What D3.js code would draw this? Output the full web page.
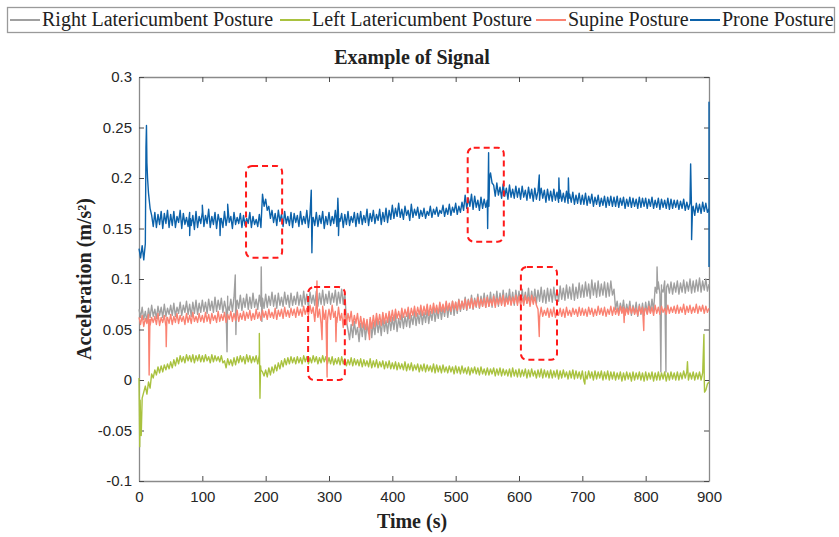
<!DOCTYPE html>
<html>
<head>
<meta charset="utf-8">
<script src="https://cdn.jsdelivr.net/npm/d3@7"></script>
<style>
  body { margin: 0; background: #fff; }
  svg { display: block; }
</style>
</head>
<body>
<svg id="chart" width="839" height="537"></svg>
<script>
// sizes
const WIDTH = 839;
const HEIGHT = 537;
const M = {left: 139, right: 130, top: 77, bottom: 56};

// data: values in 1/1000 m/s^2, one sample every 2.5 s from 0 to 900 s (one row = 50 s)
const T_STEP = 2.5;
const xTicks = [0, 100, 200, 300, 400, 500, 600, 700, 800, 900];
const yTicks = [-0.1, -0.05, 0, 0.05, 0.1, 0.15, 0.2, 0.25, 0.3];
const seriesNames = ["Right Latericumbent Posture", "Left Latericumbent Posture", "Supine Posture", "Prone Posture"];
const seriesColors = ["#a0a0a0", "#a9c23f", "#fa8272", "#0c62aa"];

const rightLat = [
  70,62,72,60,68,58,71,62,74,63, 70,61,73,64,72,62,75,63,71,65,
  74,64,76,63,72,66,77,64,74,67, 78,65,75,63,77,66,79,65,76,67,
  79,68,77,66,80,69,78,67,82,68, 79,70,81,67,78,70,83,69,80,68,
  82,70,79,71,84,69,81,72,85,70, 82,71,86,72,80,70,84,73,81,71,
  85,72,83,74,87,73,84,71,86,74, 82,73,87,75,84,72,86,74,83,75,
  87,74,84,73,88,75,85,72,87,76, 84,74,88,73,86,75,89,74,85,76,
  88,75,86,77,89,74,87,76,90,75, 87,58,50,40,55,42,58,45,52,38,
  56,43,59,40,55,46,60,42,57,45, 61,47,58,44,62,48,59,46,63,49,
  62,50,65,48,61,52,66,51,63,53, 67,52,64,55,68,54,66,56,69,55,
  67,57,70,56,68,59,72,58,70,61, 74,60,72,63,76,62,74,65,78,64,
  77,66,80,68,78,70,82,69,80,71, 84,70,81,72,85,71,83,73,86,72,
  84,73,87,72,85,74,88,73,86,75, 89,74,86,76,90,75,87,74,89,76,
  88,75,90,77,87,76,91,75,88,77, 90,76,89,78,92,77,89,76,91,78,
  90,77,92,79,89,78,93,80,91,79, 94,81,92,80,95,79,92,81,96,82,
  94,82,97,83,95,81,99,84,96,82, 98,83,95,84,97,82,96,83,98,84,
  90,70,78,66,76,68,79,65,75,67, 78,64,74,66,77,63,75,65,76,64,
  77,66,78,67,80,68,92,86,97,85, 94,87,98,84,95,86,97,85,96,87,
  98,85,96,87,99,86,97,88,100,86, 98,87,99,88,101,87,98,89,100,88,
  95
];
const rightLatSpikes = [[139,28],[140,74],[152,104],[153,45],[154,76],[193,112],[194,58],
  [818,112],[819,90],[824,8],[825,90],[832,8],[833,92]];

const leftLat = [
  2,-40,-18,-12,-6,-14,-2,-8,6,2, 10,5,13,7,14,8,15,10,16,11,
  18,12,20,14,22,16,24,18,23,17, 25,19,24,18,25,17,24,19,25,18,
  24,18,25,19,23,17,25,18,24,19, 23,18,24,17,19,12,21,15,20,14,
  22,15,23,17,24,18,23,16,25,18, 24,17,23,18,24,16,25,10,8,4,
  10,3,12,5,13,7,15,9,17,11, 19,13,21,15,22,16,23,17,22,16,
  23,17,22,16,24,18,23,16,22,17, 24,18,23,16,22,17,24,18,23,16,
  22,16,23,15,21,16,22,15,23,16, 21,14,20,15,22,14,21,15,20,14,
  21,13,20,14,19,13,21,12,19,13, 20,12,18,13,19,11,18,12,19,11,
  17,11,18,10,17,11,16,10,18,9, 16,10,17,9,15,10,16,8,15,9,
  16,8,15,9,14,8,16,7,15,8, 14,7,15,8,13,7,14,8,13,6,
  14,7,13,6,14,7,12,6,13,5, 12,7,13,6,12,5,13,6,11,5,
  12,5,11,6,12,4,11,5,12,4, 11,5,10,4,11,3,12,4,10,3,
  11,3,10,4,11,2,10,3,11,4, 9,2,10,3,11,2,10,3,9,2,
  10,2,9,3,10,1,9,2,10,3, 8,1,9,2,10,1,9,2,8,1,
  9,-1,8,1,9,2,8,0,9,1, 8,2,9,0,8,1,9,0,8,1,
  8,0,7,1,8,-1,7,0,8,1, 7,-1,8,0,7,1,8,0,7,-1,
  8,0,7,1,8,-1,7,0,8,0, 7,1,8,-1,7,0,8,1,7,0,
  8,0,7,1,9,2,8,0,7,1, 8,0,7,1,8,0,7,1,-10,-4,
  -2
];
const leftLatSpikes = [[1.2,-66],[1.8,-20],[3.5,-55],[190,46],[191,-18],[192,14],
  [704,-4],[705,6],[866,18],[867,5],[892,45],[893,-12]];

const supine = [
  62,55,64,53,61,56,65,54,62,57, 63,55,66,54,62,57,64,53,62,56,
  65,55,63,57,66,56,64,58,63,55, 66,57,64,56,67,58,63,57,66,58,
  64,57,67,58,65,56,66,59,64,57, 68,58,65,59,67,57,65,60,68,58,
  66,59,69,58,66,60,68,59,67,61, 69,59,66,60,70,61,67,59,69,62,
  68,60,70,62,67,61,71,60,69,63, 70,61,72,63,69,62,71,64,70,62,
  72,64,70,63,73,65,71,64,74,66, 72,58,75,62,70,56,73,60,69,55,
  70,60,74,62,68,57,72,59,66,52, 70,55,66,58,68,54,64,56,66,52,
  63,52,61,50,60,48,62,51,64,53, 66,55,65,54,67,56,66,57,68,58,
  69,59,70,61,68,60,71,62,70,63, 72,61,71,64,73,63,72,65,74,64,
  73,65,75,64,74,66,76,67,74,66, 77,68,75,67,78,69,76,68,78,70,
  77,69,79,70,78,71,80,70,79,72, 81,71,79,73,82,72,80,73,81,72,
  82,73,80,74,83,72,81,75,82,74, 84,73,81,75,83,74,82,76,84,74,
  83,75,81,74,84,76,82,73,84,75, 82,74,70,62,72,63,69,64,71,62,
  70,63,72,62,69,64,71,63,70,62, 72,64,69,63,71,65,70,63,72,64,
  71,64,70,63,72,65,71,63,70,64, 73,65,71,64,72,63,70,65,73,64,
  72,65,71,64,73,66,72,64,71,65, 73,66,72,65,71,64,73,66,72,65,
  71,65,73,66,72,64,74,66,72,65, 73,67,71,65,74,66,72,67,73,66,
  74,66,72,67,75,65,73,67,74,66, 72,67,75,66,73,68,74,66,73,67,
  71
];
const supineSpikes = [[16,5],[17.3,60],[43,33],[44,62],[281,98],[281.8,64],[289,40],[289.8,66],
  [297,3],[298,62],[311,38],[312,62],[364,40],[364.8,58],[632,43],[633,64],
  [766,57],[766.8,70],[797,49],[798.5,70]];

const prone = [
  130,121,133,119,135,215,185,170,163,152, 166,151,164,154,167,150,165,155,168,151,
  164,153,167,151,162,156,168,150,165,154, 161,152,166,153,163,149,167,151,162,155,
  166,152,163,155,169,151,162,154,166,150, 164,156,160,151,167,153,163,156,162,150,
  166,154,161,155,165,151,163,153,160,155, 166,151,162,154,159,152,164,151,184,172,
  179,168,172,160,168,156,165,153,168,157, 164,152,167,155,162,153,166,151,165,156,
  163,152,167,154,162,155,168,151,164,156, 161,153,166,152,163,155,167,150,162,154,
  166,153,162,155,168,152,163,157,165,151, 164,154,167,153,162,156,166,152,165,155,
  167,154,163,156,169,153,165,157,168,155, 164,158,169,154,166,157,170,156,168,159,
  173,160,170,162,175,161,169,159,172,163, 168,158,174,161,169,163,171,160,168,162,
  170,160,167,163,172,161,169,164,171,162, 168,165,173,162,170,164,174,163,171,166,
  175,164,172,166,176,168,183,170,180,172, 184,169,182,171,178,168,181,170,179,171,
  178,172,205,195,193,182,195,183,191,180, 194,182,190,179,193,181,189,180,192,181,
  190,179,192,181,188,178,191,180,189,177, 190,179,187,178,190,180,188,176,189,178,
  187,177,189,178,186,176,188,177,185,176, 187,175,184,176,186,174,183,175,185,174,
  183,174,185,173,182,175,184,172,181,174, 183,172,180,173,182,171,181,173,182,172,
  181,172,182,171,180,173,181,170,179,172, 181,171,180,172,179,170,181,171,180,172,
  180,170,179,172,181,170,178,171,180,169, 179,171,178,170,180,169,179,170,178,171,
  178,169,177,170,179,168,176,169,175,166, 172,163,175,166,174,165,176,167,175,166,
  170
];
const proneSpikes = [[11,230],[11.8,252],[13.5,200],[80,143],[81,160],[100,173],[128,143],[129,160],[140,174],
  [272,188],[273,126],[274,160],[314,180],[315,143],[316,160],
  [550.5,150],[552,225],[553.5,200],[632,203],[633,182],[663,200],[664,180],[678,200],[679,180],
  [871,214],[872.5,139],[874,170],[900,275],[900,112]];

// dashed highlight boxes: [t0, t1, vLow, vHigh]
const boxes = [[169, 226, 0.121, 0.212], [519, 576, 0.137, 0.23], [267, 325, 0.0, 0.092], [603, 660, 0.02, 0.112]];

function buildSeries(vals, spikes) {
  const pts = vals.map((v, i) => [i * T_STEP, v / 1000]);
  spikes.forEach(s => pts.push([s[0], s[1] / 1000]));
  pts.sort((a, b) => a[0] - b[0]);
  return pts;
}

const allSeries = [
  buildSeries(rightLat, rightLatSpikes),
  buildSeries(leftLat, leftLatSpikes),
  buildSeries(supine, supineSpikes),
  buildSeries(prone, proneSpikes)
];

const svg = d3.select('#chart');
const x = d3.scaleLinear([0, 900], [M.left, WIDTH - M.right]);
const y = d3.scaleLinear([-0.1, 0.3], [HEIGHT - M.bottom, M.top]);
const fmt = d => String(+d.toFixed(2));

// axes
const axisColor = "#8a8a8a";
const gx = svg.append('g').attr('transform', `translate(0,${y(-0.1)})`)
  .call(d3.axisBottom(x).tickValues(xTicks).tickFormat(fmt).tickSize(-5).tickSizeOuter(0).tickPadding(9));
const gxTop = svg.append('g').attr('transform', `translate(0,${y(0.3)})`)
  .call(d3.axisTop(x).tickValues(xTicks).tickFormat('').tickSize(-5).tickSizeOuter(0));
const gy = svg.append('g').attr('transform', `translate(${x(0)},0)`)
  .call(d3.axisLeft(y).tickValues(yTicks).tickFormat(fmt).tickSize(-5).tickSizeOuter(0).tickPadding(7));
const gyRight = svg.append('g').attr('transform', `translate(${x(900)},0)`)
  .call(d3.axisRight(y).tickValues(yTicks).tickFormat('').tickSize(-5).tickSizeOuter(0));

[gx, gxTop, gy, gyRight].forEach(g => {
  g.select('.domain').attr('stroke', axisColor).attr('stroke-width', 1.3);
  g.selectAll('.tick line').attr('stroke', '#4a4a4a');
  g.selectAll('.tick text').attr('fill', '#262626')
    .style('font-family', '"Liberation Sans", Arial, sans-serif').style('font-size', '15px');
});
gx.selectAll('.tick text').attr('dy', '0.8em');

// lines
const line = d3.line().x(d => x(d[0])).y(d => y(d[1]));
svg.append('g').selectAll('path.sig')
  .data(allSeries)
  .enter()
  .append('path')
  .attr('class', 'sig')
  .attr('d', line)
  .attr('fill', 'none')
  .attr('stroke', (d, i) => seriesColors[i])
  .attr('stroke-width', 1.4)
  .attr('stroke-linejoin', 'round');

// red dashed boxes
svg.append('g').selectAll('rect')
  .data(boxes)
  .enter()
  .append('rect')
  .attr('x', d => x(d[0]))
  .attr('y', d => y(d[3]))
  .attr('width', d => x(d[1]) - x(d[0]))
  .attr('height', d => y(d[2]) - y(d[3]))
  .attr('rx', 6)
  .attr('fill', 'none')
  .attr('stroke', '#ff1a1a')
  .attr('stroke-width', 2)
  .attr('stroke-dasharray', '6,4');

// title and labels
const serif = '"Liberation Serif", "Times New Roman", serif';
svg.append('text').attr('x', 412).attr('y', 64).attr('text-anchor', 'middle')
  .style('font-family', serif).style('font-size', '20px').style('font-weight', 'bold').attr('fill', '#222')
  .text('Example of Signal');
svg.append('text').attr('x', 412).attr('y', 528).attr('text-anchor', 'middle')
  .style('font-family', serif).style('font-size', '20px').style('font-weight', 'bold').attr('fill', '#222')
  .text('Time (s)');
svg.append('text').attr('transform', `translate(91,${y(0.1)}) rotate(-90)`).attr('text-anchor', 'middle')
  .style('font-family', serif).style('font-size', '20px').style('font-weight', 'bold').attr('fill', '#222')
  .text('Acceleration (m/s²)');

// legend
const legend = svg.append('g');
legend.append('rect').attr('x', 7.5).attr('y', 7.5).attr('width', 827).attr('height', 25)
  .attr('fill', '#fff').attr('stroke', '#9a9a9a').attr('stroke-width', 1.3);
const legendX = [10, 280, 536, 690];
const item = legend.selectAll('g.item')
  .data(seriesNames)
  .enter()
  .append('g')
  .attr('class', 'item')
  .attr('transform', (d, i) => `translate(${legendX[i]},0)`);
item.append('line').attr('x1', 0).attr('x2', 30).attr('y1', 20).attr('y2', 20)
  .attr('stroke', (d, i) => seriesColors[i]).attr('stroke-width', 2);
item.append('text').attr('x', 32).attr('y', 26)
  .style('font-family', serif).style('font-size', '20px').attr('fill', '#222')
  .text(d => d);
</script>
</body>
</html>
